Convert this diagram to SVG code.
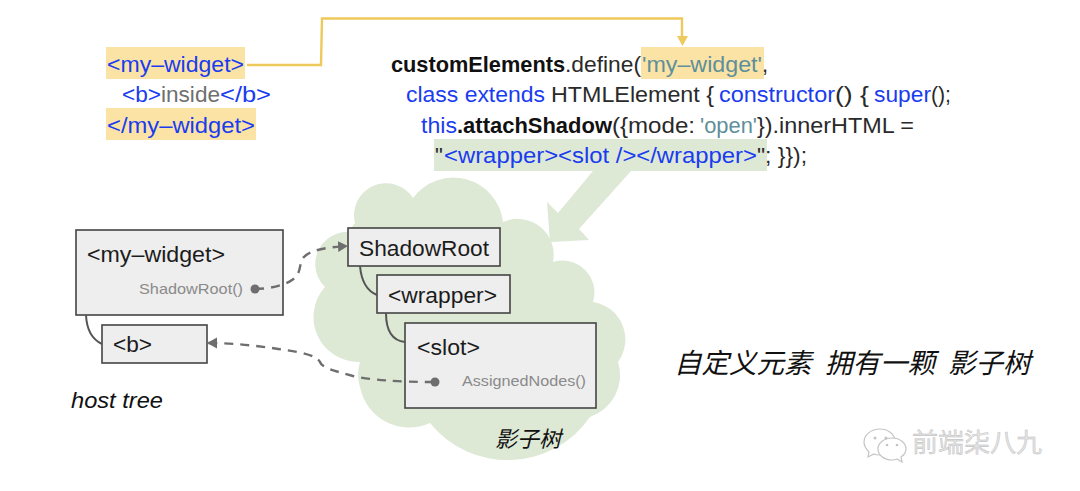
<svg xmlns="http://www.w3.org/2000/svg" width="1080" height="491" viewBox="0 0 1080 491">
<defs>
<style>
text{font-family:"Liberation Sans","Noto Sans CJK SC",sans-serif}
.c{font-size:22px;fill:#2a2a2a}
.b{fill:#1a3cf0}.g{fill:#6f6f6f}.t{fill:#5f8f9a}.k{fill:#111;font-weight:700}
.n{fill:#eeeeee;stroke:#444;stroke-width:1.6}
.l{font-size:22px;fill:#1c1c1c}
.s{font-size:15px;fill:#8a8a8a}
.e{fill:none;stroke:#555;stroke-width:2}
.d{fill:none;stroke:#6e6e6e;stroke-width:2.4;stroke-dasharray:9 7}
.i{font-style:italic;fill:#111}
</style>
<marker id="ah" markerWidth="12" markerHeight="12" refX="9" refY="5.500" orient="auto" markerUnits="userSpaceOnUse"><path d="M0 0L10 5.500L0 11z" fill="#6e6e6e"/></marker>
</defs>
<rect width="1080" height="491" fill="#fff"/>
<g id="cloud">
<path fill="#dde8d5" d="M355 223A32 32 0 0 1 413 198A50 50 0 0 1 503 222A36 36 0 0 1 553 262A32 32 0 0 1 593 302A38 38 0 0 1 618 362A44 44 0 0 1 590 417A100 100 0 0 1 430 423A50 50 0 0 1 360 387Q356 375 360 362A45 45 0 0 1 325 287A32 32 0 0 1 348 232Z"/>
<path fill="#dde8d5" d="M593 171L558 213L547 202L550 242L589 240L579 229L631 171Z"/>
</g>
<g id="code-host">
<rect x="106" y="47" width="139" height="32" fill="#fae3a5"/>
<rect x="106" y="108" width="150" height="32" fill="#fae3a5"/>
<text class="c" y="72"><tspan class="b" x="107" textLength="137" lengthAdjust="spacingAndGlyphs">&lt;my–widget&gt;</tspan></text>
<text class="c" y="102"><tspan class="b" x="122" textLength="39" lengthAdjust="spacingAndGlyphs">&lt;b&gt;</tspan><tspan class="g" x="161" textLength="59" lengthAdjust="spacingAndGlyphs">inside</tspan><tspan class="b" x="220" textLength="51" lengthAdjust="spacingAndGlyphs">&lt;/b&gt;</tspan></text>
<text class="c" y="133"><tspan class="b" x="107" textLength="148" lengthAdjust="spacingAndGlyphs">&lt;/my–widget&gt;</tspan></text>
</g>
<g id="code-define">
<rect x="641" y="47" width="123" height="32" fill="#fae3a5"/>
<rect x="434" y="139" width="333" height="32" fill="#dde8d5"/>
<text class="c" y="72"><tspan class="k" x="391" textLength="174" lengthAdjust="spacingAndGlyphs">customElements</tspan><tspan x="565" textLength="76" lengthAdjust="spacingAndGlyphs">.define(</tspan><tspan class="t" x="642" textLength="120" lengthAdjust="spacingAndGlyphs">'my–widget'</tspan><tspan x="762">,</tspan></text>
<text class="c" y="102"><tspan class="b" x="406" textLength="139" lengthAdjust="spacingAndGlyphs">class extends</tspan><tspan x="551" textLength="163" lengthAdjust="spacingAndGlyphs">HTMLElement {</tspan><tspan class="b" x="719" textLength="116" lengthAdjust="spacingAndGlyphs">constructor</tspan><tspan x="835" textLength="34" lengthAdjust="spacingAndGlyphs">() {</tspan><tspan class="b" x="874" textLength="57" lengthAdjust="spacingAndGlyphs">super</tspan><tspan x="931" textLength="20" lengthAdjust="spacingAndGlyphs">();</tspan></text>
<text class="c" y="133"><tspan class="b" x="421" textLength="36" lengthAdjust="spacingAndGlyphs">this</tspan><tspan class="k" x="457" textLength="155" lengthAdjust="spacingAndGlyphs">.attachShadow</tspan><tspan x="612" textLength="83" lengthAdjust="spacingAndGlyphs">({mode:</tspan><tspan class="t" x="700" textLength="57" lengthAdjust="spacingAndGlyphs">'open'</tspan><tspan x="757" textLength="157" lengthAdjust="spacingAndGlyphs">}).innerHTML =</tspan></text>
<text class="c" y="163"><tspan x="435" textLength="9">"</tspan><tspan class="b" x="444" textLength="313" lengthAdjust="spacingAndGlyphs">&lt;wrapper&gt;&lt;slot /&gt;&lt;/wrapper&gt;</tspan><tspan x="757" textLength="50" lengthAdjust="spacingAndGlyphs">"; }});</tspan></text>
</g>
<g id="my-widget"><rect class="n" x="76" y="230" width="207" height="85"/><text class="l" x="87" y="262" textLength="138" lengthAdjust="spacingAndGlyphs">&lt;my–widget&gt;</text><text class="s" x="139" y="294" textLength="104" lengthAdjust="spacingAndGlyphs">ShadowRoot()</text></g>
<g id="b"><rect class="n" x="102" y="325" width="105" height="38"/><text class="l" x="113" y="352" textLength="39" lengthAdjust="spacingAndGlyphs">&lt;b&gt;</text></g>
<g id="shadowroot"><rect class="n" x="348" y="228" width="152" height="38"/><text class="l" x="359" y="256" textLength="130" lengthAdjust="spacingAndGlyphs">ShadowRoot</text></g>
<g id="wrapper"><rect class="n" x="377" y="275" width="133" height="38"/><text class="l" x="388" y="303" textLength="109" lengthAdjust="spacingAndGlyphs">&lt;wrapper&gt;</text></g>
<g id="slot"><rect class="n" x="405" y="323" width="191" height="85"/><text class="l" x="417" y="355" textLength="63" lengthAdjust="spacingAndGlyphs">&lt;slot&gt;</text><text class="s" x="462" y="386" textLength="124" lengthAdjust="spacingAndGlyphs">AssignedNodes()</text></g>
<g id="connectors">
<path fill="none" stroke="#eec95c" stroke-width="2.4" d="M247 65H321L322 18.500H682V36"/>
<path fill="#eec95c" d="M677 36H688L682.500 46Z"/>
<path class="e" d="M86 315Q87 337 102 344"/>
<path class="e" d="M360 266Q362 289 377 295"/>
<path class="e" d="M386 313Q386 340 405 342"/>
<path class="d" d="M255 289C270 289 285 285 292 280C303 273 298 262 304 257C312 249 330 247 347 246" marker-end="url(#ah)"/>
<circle cx="255" cy="289" r="4.500" fill="#6e6e6e"/>
<path class="d" d="M434 382C400 382 370 380 353 376C335 371 322 368 320 362C316 355 300 352 285 350C260 346 235 343 208 343" marker-end="url(#ah)"/>
<circle cx="435" cy="382" r="4.500" fill="#6e6e6e"/>
</g>
<g id="labels">
<text class="i" x="71" y="408" font-size="22" textLength="92" lengthAdjust="spacingAndGlyphs">host tree</text>
<text class="i" x="495" y="447" font-size="22">影子树</text>
<text class="i" y="373" font-size="27.500"><tspan x="674">自定义元素</tspan><tspan x="825">拥有一颗</tspan><tspan x="948">影子树</tspan></text>
</g>
<g id="watermark">
<path d="M880 429c-9 0-16 6-16 13 0 4 2 7 5 10l-1 5 6-3c2 1 4 1 6 1" fill="#fff" stroke="#c4c4c4" stroke-width="1.2"/>
<path d="M880 429c8 0 14 5 15 11" fill="none" stroke="#c4c4c4" stroke-width="1.2"/>
<path d="M892 438c-8 0-14 5-14 11s6 11 14 11c2 0 3 0 5-1l5 3-1-5c3-2 5-5 5-8 0-6-6-11-14-11z" fill="#fff" stroke="#c4c4c4" stroke-width="1.2"/>
<g fill="#c4c4c4"><circle cx="875" cy="438" r="1.500"/><circle cx="886" cy="438" r="1.500"/><circle cx="887" cy="445" r="1.300"/><circle cx="897" cy="445" r="1.300"/></g>
<text x="912" y="452" font-size="26" fill="#e4e4e4" stroke="#b8b8b8" stroke-width=".4">前端柒八九</text>
</g>
</svg>
